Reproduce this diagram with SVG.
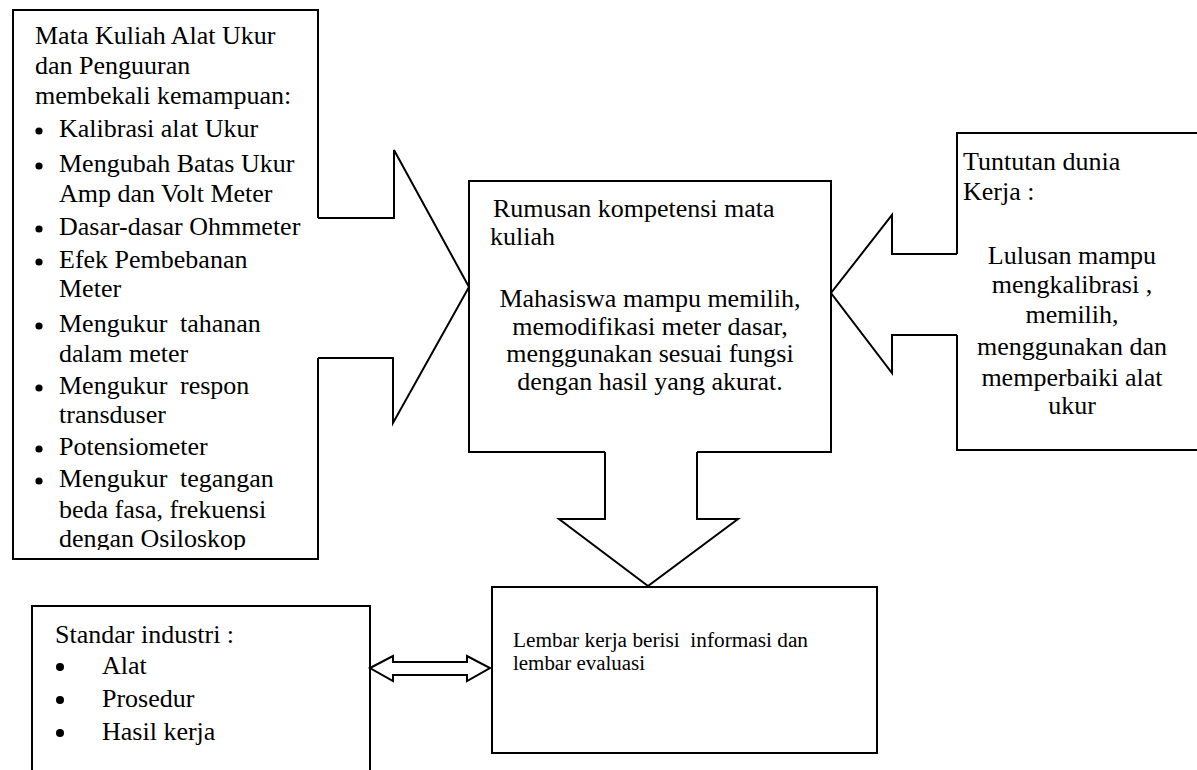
<svg xmlns="http://www.w3.org/2000/svg" width="1197" height="770" viewBox="0 0 1197 770">
<style>
  .ln { fill: none; stroke: #000; stroke-width: 2; stroke-linejoin: miter; }
  .t { font-family: "Liberation Serif", "Times New Roman", serif; font-size: 26px; fill: #000; }
  .ts { font-family: "Liberation Serif", "Times New Roman", serif; font-size: 20px; fill: #000; white-space: pre; }
  .c { text-anchor: middle; }
  .dot { fill: #000; }
</style>
<defs>
  <clipPath id="clipLeft"><rect x="0" y="0" width="330" height="550"/></clipPath>
</defs>
<rect x="0" y="0" width="1197" height="770" fill="#fff"/>

<g id="node-matakuliah">
  <path class="ln" d="M318,218 V10 H13 V559 H318 V358"/>
  <g clip-path="url(#clipLeft)" class="t">
    <text x="35" y="44">Mata Kuliah Alat Ukur</text>
    <text x="35" y="74">dan Penguuran</text>
    <text x="35" y="104">membekali kemampuan:</text>
    <text x="59" y="137">Kalibrasi alat Ukur</text>
    <text x="59" y="172">Mengubah Batas Ukur</text>
    <text x="59" y="202">Amp dan Volt Meter</text>
    <text x="59" y="235">Dasar-dasar Ohmmeter</text>
    <text x="59" y="268">Efek Pembebanan</text>
    <text x="59" y="297">Meter</text>
    <text x="59" y="332">Mengukur<tspan x="180">tahanan</tspan></text>
    <text x="59" y="362">dalam meter</text>
    <text x="59" y="394">Mengukur<tspan x="180">respon</tspan></text>
    <text x="59" y="423">transduser</text>
    <text x="59" y="455">Potensiometer</text>
    <text x="59" y="487">Mengukur<tspan x="180">tegangan</tspan></text>
    <text x="59" y="518">beda fasa, frekuensi</text>
    <text x="59" y="547">dengan Osiloskop</text>
  </g>
  <g class="dot">
    <circle cx="39" cy="131" r="3.6"/>
    <circle cx="39" cy="166" r="3.6"/>
    <circle cx="39" cy="229" r="3.6"/>
    <circle cx="39" cy="262" r="3.6"/>
    <circle cx="39" cy="326" r="3.6"/>
    <circle cx="39" cy="388" r="3.6"/>
    <circle cx="39" cy="449" r="3.6"/>
    <circle cx="39" cy="481" r="3.6"/>
  </g>
</g>

<g id="node-rumusan">
  <path class="ln" d="M605,452 H469 V181 H831 V452 H697"/>
  <text class="t" x="493" y="217">Rumusan kompetensi mata</text>
  <text class="t" x="490" y="245">kuliah</text>
  <text class="t c" x="650" y="307">Mahasiswa mampu memilih,</text>
  <text class="t c" x="650" y="335">memodifikasi meter dasar,</text>
  <text class="t c" x="650" y="362">menggunakan sesuai fungsi</text>
  <text class="t c" x="650" y="390">dengan hasil yang akurat.</text>
</g>

<g id="node-tuntutan">
  <path class="ln" d="M957,254 V133 H1200"/>
  <path class="ln" d="M957,335 V450 H1200"/>
  <text class="t" x="963" y="170">Tuntutan dunia</text>
  <text class="t" x="963" y="200">Kerja :</text>
  <text class="t c" x="1072" y="264">Lulusan mampu</text>
  <text class="t c" x="1072" y="293">mengkalibrasi ,</text>
  <text class="t c" x="1072" y="323">memilih,</text>
  <text class="t c" x="1072" y="355">menggunakan dan</text>
  <text class="t c" x="1072" y="386">memperbaiki alat</text>
  <text class="t c" x="1072" y="414">ukur</text>
</g>

<g id="node-standar">
  <path class="ln" d="M32,775 V606 H370 V775"/>
  <text class="t" x="55" y="643">Standar industri :</text>
  <text class="t" x="102" y="674">Alat</text>
  <text class="t" x="102" y="707">Prosedur</text>
  <text class="t" x="102" y="740">Hasil kerja</text>
  <g class="dot">
    <circle cx="60" cy="667" r="4"/>
    <circle cx="60" cy="700" r="4"/>
    <circle cx="60" cy="733" r="4"/>
  </g>
</g>

<g id="node-lembar">
  <rect class="ln" x="492" y="587" width="385" height="166"/>
  <text class="ts" x="513" y="647" textLength="295" lengthAdjust="spacingAndGlyphs">Lembar kerja berisi  informasi dan</text>
  <text class="ts" x="513" y="670" textLength="132" lengthAdjust="spacingAndGlyphs">lembar evaluasi</text>
</g>

<g id="connectors">
  <polyline class="ln" points="318,218 394,218 394,150 469,287 393,423 393,358 318,358"/>
  <polyline class="ln" points="957,254 892,254 892,215 831,293 892,373 892,335 957,335"/>
  <polyline class="ln" points="605,452 605,519 559,519 648,586 738,519 697,519 697,452"/>
  <polygon class="ln" points="370,668 393,656 393,662 467,662 467,656 490,668 467,681 467,675 393,675 393,681"/>
</g>
</svg>
